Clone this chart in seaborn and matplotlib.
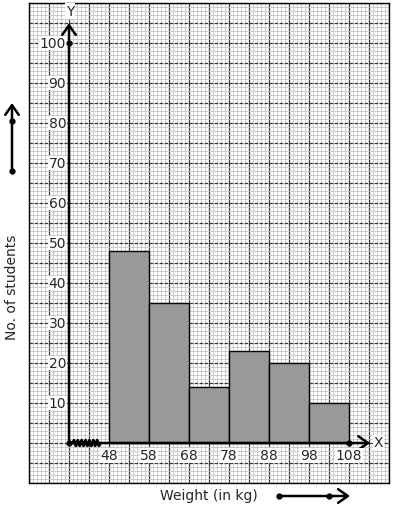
import numpy as np
import pandas as pd
import matplotlib
matplotlib.use("Agg")
import matplotlib.pyplot as plt
import seaborn as sns

# data
bin_edges = [48, 58, 68, 78, 88, 98, 108]
counts = [48, 35, 14, 23, 20, 10]
x_tick_labels = ["48", "58", "68", "78", "88", "98", "108"]
y_tick_values = [10, 20, 30, 40, 50, 60, 70, 80, 90, 100]

sns.set_theme(style="white")
plt.rcParams['font.family'] = ['DejaVu Sans']

W, H = 394, 510
fig = plt.figure(figsize=(W / 100, H / 100), dpi=100)
ax = fig.add_axes([29 / W, 1 - 484 / H, 360 / W, 480 / H])

mids = [(a + b) / 2 for a, b in zip(bin_edges[:-1], bin_edges[1:])]
df = pd.DataFrame({"weight": mids, "n": counts})
sns.histplot(data=df, x="weight", weights="n", bins=bin_edges, ax=ax,
             color="#999999", edgecolor="black", linewidth=1.0, alpha=1, zorder=3)

ax.set_xlim(28, 118)
ax.set_ylim(-10, 110)

# graph paper grid
ax.set_xticks(np.arange(28, 119, 5))
ax.set_xticks(np.arange(28, 119, 1), minor=True)
ax.set_yticks(np.arange(-10, 111, 5))
ax.set_yticks(np.arange(-10, 111, 1), minor=True)
ax.grid(which="minor", color="#c4c4c4", linewidth=0.6, zorder=0)
ax.xaxis.grid(True, which="major", color="#3a3a3a", linewidth=0.9, linestyle="-", zorder=1)
ax.yaxis.grid(True, which="major", color="#3a3a3a", linewidth=0.9, linestyle=(0, (3, 1)), zorder=1)
ax.set_axisbelow(True)
ax.tick_params(which="both", length=0, labelbottom=False, labelleft=False)
ax.set_xlabel("")
ax.set_ylabel("")
for s in ax.spines.values():
    s.set_color("black")
    s.set_linewidth(1.0)

astyle = "->,head_length=0.5,head_width=0.35"
# axes arrows
ax.annotate("", xy=(38, 105), xytext=(38, 0),
            arrowprops=dict(arrowstyle=astyle, lw=1.8, color="black", mutation_scale=14,
                            shrinkA=0, shrinkB=0), zorder=5)
ax.annotate("", xy=(113.3, 0), xytext=(38, 0),
            arrowprops=dict(arrowstyle=astyle, lw=1.8, color="black", mutation_scale=14,
                            shrinkA=0, shrinkB=0), zorder=5)
ax.text(38.3, 108, "Y", ha="center", va="center", fontsize=10,
        bbox=dict(facecolor="white", edgecolor="none", pad=0.5), zorder=6)
ax.text(115.3, 0.2, "X", ha="center", va="center", fontsize=10,
        bbox=dict(facecolor="white", edgecolor="none", pad=0.5), zorder=6)

# zigzag (axis break)
zx = np.linspace(39, 45.75, 29)
zy = np.tile([0.0, 0.7, 0.0, -0.7], 8)[:29]
ax.plot(zx, zy, color="black", lw=2.0, zorder=6)

# dots
ax.scatter([38, 38, 108], [0, 100, 0], s=12, color="black", zorder=7)

# tick labels
for v in y_tick_values:
    ax.text(37.3, v, str(v), ha="right", va="center", fontsize=10,
            bbox=dict(facecolor="white", edgecolor="none", pad=0.3), zorder=6)
for e, lab in zip(bin_edges, x_tick_labels):
    ax.text(e, -3.1, lab, ha="center", va="center", fontsize=10,
            bbox=dict(facecolor="white", edgecolor="none", pad=0.3), zorder=6)

# axis titles with arrows
fig.text(12 / W, 1 - 287 / H, "No. of students", rotation=90, ha="center", va="center", fontsize=10)
fig.text(209 / W, 1 - 496 / H, "Weight (in kg)", ha="center", va="center", fontsize=10)

ann_kw = dict(xycoords="figure fraction", textcoords="figure fraction",
              arrowprops=dict(arrowstyle=astyle, lw=1.8, color="black", mutation_scale=14,
                              shrinkA=0, shrinkB=0))
ax.annotate("", xy=(12 / W, 1 - 104 / H), xytext=(12 / W, 1 - 172 / H), **ann_kw)
ax.annotate("", xy=(350 / W, 1 - 497 / H), xytext=(279 / W, 1 - 497 / H), **ann_kw)
for px, py in [(12, 172), (12, 122), (279, 497), (329, 497)]:
    fig.add_artist(plt.Line2D([px / W], [1 - py / H], marker="o", markersize=3.5,
                              color="black", zorder=10))

fig.savefig("out.png", dpi=100, facecolor="white")
